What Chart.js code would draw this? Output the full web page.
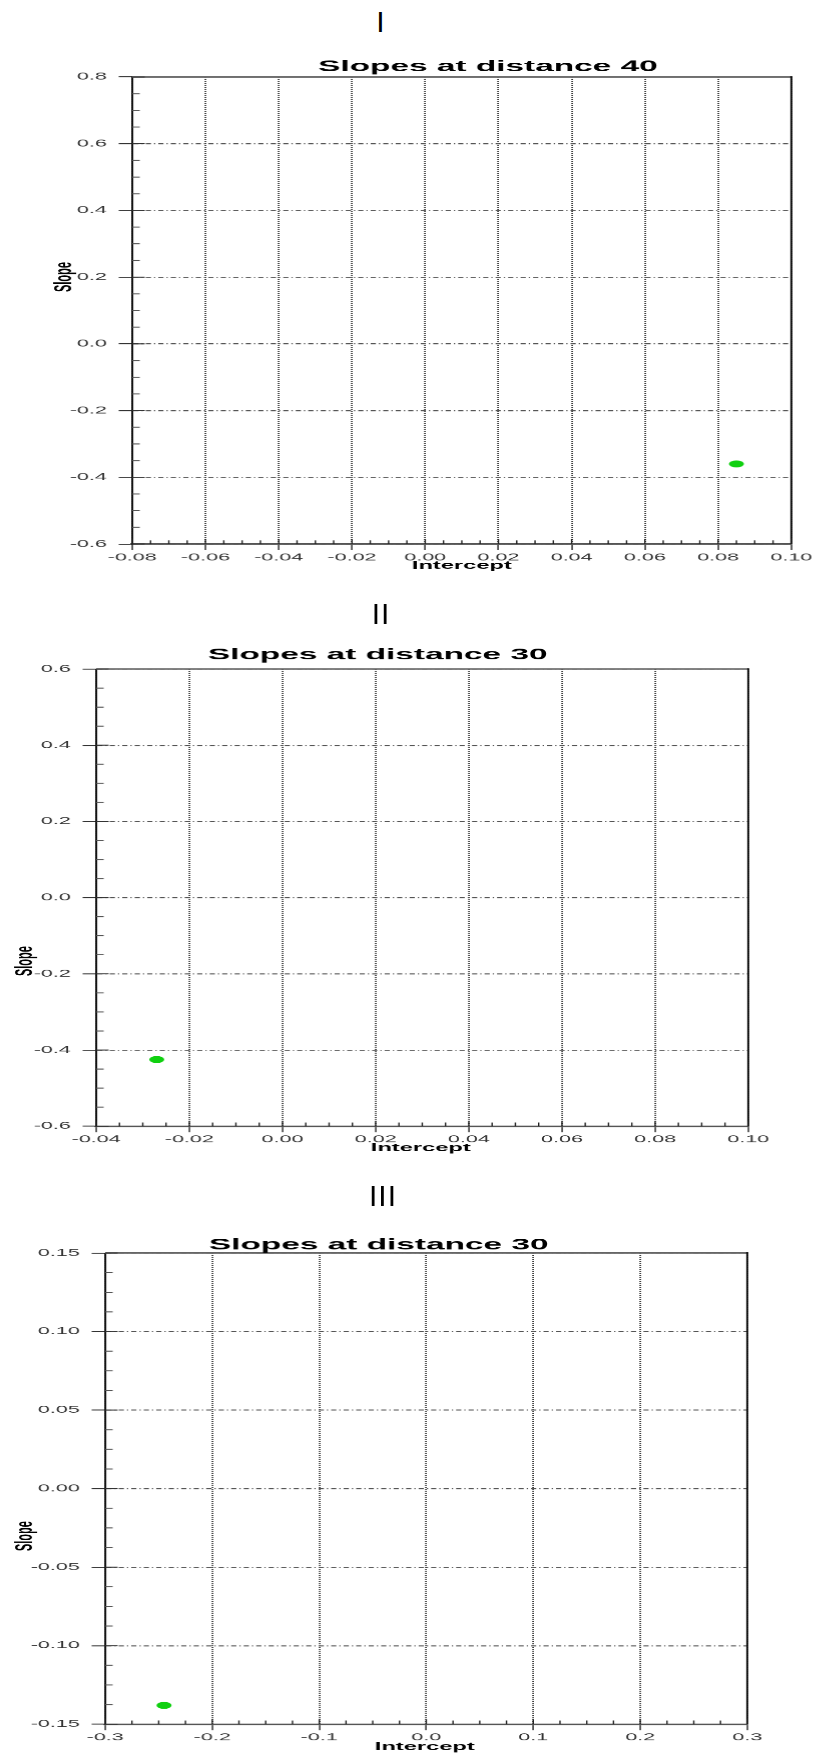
<!DOCTYPE html>
<html>
<head>
<meta charset="utf-8">
<title>Slopes at distance</title>
<script src="https://cdn.jsdelivr.net/npm/chart.js@4.4.1/dist/chart.umd.min.js"></script>
<style>
  html, body { margin: 0; padding: 0; background: #fff; }
  body { width: 813px; height: 1758px; overflow: hidden; position: relative; }
  .panel { position: absolute; left: 0; transform-origin: 0 0; }
  .num {
    position: absolute;
    font-family: "Liberation Sans", Arial, sans-serif;
    font-size: 30px;
    line-height: 1;
    color: #000;
    letter-spacing: 1px;
    transform: translate(-50%, -50%);
    white-space: nowrap;
  }
</style>
</head>
<body>
<script>
// The figure is drawn narrow and stretched sideways by this factor.
const S = 2.15;
const PAGE_W = 853;   // drawing width (px), a bit wider than the page
const FONT = '"Liberation Sans", Arial, Helvetica, sans-serif';

// ---- data ----
const panelNames = ['I', 'II', 'III'];
const chartTitles = ['Slopes at distance 40', 'Slopes at distance 30', 'Slopes at distance 30'];
const xAxisTitle = 'Intercept';
const yAxisTitle = 'Slope';

const interceptI = [0.085];
const slopeI = [-0.36];
const interceptII = [-0.027];
const slopeII = [-0.425];
const interceptIII = [-0.245];
const slopeIII = [-0.138];

const xTicksI = [-0.08, -0.06, -0.04, -0.02, 0, 0.02, 0.04, 0.06, 0.08, 0.10];
const xLabelsI = ['-0.08', '-0.06', '-0.04', '-0.02', '0.00', '0.02', '0.04', '0.06', '0.08', '0.10'];
const yTicksI = [-0.6, -0.4, -0.2, 0, 0.2, 0.4, 0.6, 0.8];
const yLabelsI = ['-0.6', '-0.4', '-0.2', '0.0', '0.2', '0.4', '0.6', '0.8'];

const xTicksII = [-0.04, -0.02, 0, 0.02, 0.04, 0.06, 0.08, 0.10];
const xLabelsII = ['-0.04', '-0.02', '0.00', '0.02', '0.04', '0.06', '0.08', '0.10'];
const yTicksII = [-0.6, -0.4, -0.2, 0, 0.2, 0.4, 0.6];
const yLabelsII = ['-0.6', '-0.4', '-0.2', '0.0', '0.2', '0.4', '0.6'];

const xTicksIII = [-0.3, -0.2, -0.1, 0, 0.1, 0.2, 0.3];
const xLabelsIII = ['-0.3', '-0.2', '-0.1', '0.0', '0.1', '0.2', '0.3'];
const yTicksIII = [-0.15, -0.10, -0.05, 0, 0.05, 0.10, 0.15];
const yLabelsIII = ['-0.15', '-0.10', '-0.05', '0.00', '0.05', '0.10', '0.15'];

// ---- page layout (page pixels) ----
const panels = [
  { name: panelNames[0], title: chartTitles[0], xs: interceptI, ys: slopeI,
    xTicks: xTicksI, xLabels: xLabelsI, yTicks: yTicksI, yLabels: yLabelsI,
    top: 40, height: 560, left: 132, right: 790, plotTop: 77, plotBottom: 544,
    numPos: [381, 22], titlePos: [487, 67], yTitlePos: [64, 277], xTitlePos: [461, 566] },
  { name: panelNames[1], title: chartTitles[1], xs: interceptII, ys: slopeII,
    xTicks: xTicksII, xLabels: xLabelsII, yTicks: yTicksII, yLabels: yLabelsII,
    top: 630, height: 550, left: 96, right: 747, plotTop: 669, plotBottom: 1126,
    numPos: [381, 614], titlePos: [377, 655], yTitlePos: [25, 961], xTitlePos: [420, 1148] },
  { name: panelNames[2], title: chartTitles[2], xs: interceptIII, ys: slopeIII,
    xTicks: xTicksIII, xLabels: xLabelsIII, yTicks: yTicksIII, yLabels: yLabelsIII,
    top: 1215, height: 543, left: 105, right: 746, plotTop: 1253, plotBottom: 1724,
    numPos: [383, 1196], titlePos: [378, 1245], yTitlePos: [25, 1536], xTitlePos: [424, 1747] }
];

// Frame, inner tick marks and the text around each plot.
const panelDecor = {
  id: 'panelDecor',
  afterDraw(chart, args, o) {
    const ctx = chart.ctx;
    const a = chart.chartArea;
    const xs = chart.scales.x, ys = chart.scales.y;
    ctx.save();
    ctx.setLineDash([]);

    // top and right frame
    ctx.strokeStyle = '#666';
    ctx.lineWidth = 1.5;
    ctx.beginPath(); ctx.moveTo(a.left, a.top); ctx.lineTo(a.right, a.top); ctx.stroke();
    ctx.strokeStyle = '#111';
    ctx.lineWidth = 2 / S;
    ctx.beginPath(); ctx.moveTo(a.right, a.top - 0.75); ctx.lineTo(a.right, a.bottom); ctx.stroke();

    // ticks inside the left axis: majors and three minors per interval
    ctx.strokeStyle = '#333';
    ctx.lineWidth = 1;
    const yt = ys.ticks.map(t => t.value);
    yt.forEach(v => {
      const y = ys.getPixelForValue(v);
      ctx.beginPath(); ctx.moveTo(a.left, y); ctx.lineTo(a.left + 12.5 / S, y); ctx.stroke();
    });
    ctx.strokeStyle = '#555';
    for (let i = 0; i < yt.length - 1; i++) {
      for (let k = 1; k < 4; k++) {
        const y = ys.getPixelForValue(yt[i] + (yt[i + 1] - yt[i]) * k / 4);
        ctx.beginPath(); ctx.moveTo(a.left, y); ctx.lineTo(a.left + 7.5 / S, y); ctx.stroke();
      }
    }
    // ticks inside the bottom axis
    ctx.strokeStyle = '#222';
    ctx.lineWidth = 1.4 / S;
    const xt = xs.ticks.map(t => t.value);
    xt.forEach(v => {
      const x = xs.getPixelForValue(v);
      ctx.beginPath(); ctx.moveTo(x, a.bottom); ctx.lineTo(x, a.bottom - 5); ctx.stroke();
    });
    for (let i = 0; i < xt.length - 1; i++) {
      for (let k = 1; k < 4; k++) {
        const x = xs.getPixelForValue(xt[i] + (xt[i + 1] - xt[i]) * k / 4);
        ctx.beginPath(); ctx.moveTo(x, a.bottom); ctx.lineTo(x, a.bottom - 3.7); ctx.stroke();
      }
    }

    // titles
    ctx.fillStyle = '#000';
    ctx.textAlign = 'center';
    ctx.textBaseline = 'middle';
    ctx.font = 'bold 15.5px ' + FONT;
    ctx.fillText(o.title, o.titlePos[0] / S, o.titlePos[1] - o.top);
    ctx.font = 'bold 11px ' + FONT;
    ctx.fillText(o.xTitle, o.xTitlePos[0] / S, o.xTitlePos[1] - o.top);
    ctx.translate(o.yTitlePos[0] / S, o.yTitlePos[1] - o.top);
    ctx.rotate(-Math.PI / 2);
    ctx.fillText(o.yTitle, 0, 0);
    ctx.restore();
  }
};

function buildPanel(p) {
  const num = document.createElement('div');
  num.className = 'num';
  num.textContent = p.name;
  num.style.left = p.numPos[0] + 'px';
  num.style.top = p.numPos[1] + 'px';
  document.body.appendChild(num);

  const wrap = document.createElement('div');
  wrap.className = 'panel';
  wrap.style.top = p.top + 'px';
  wrap.style.width = (PAGE_W / S) + 'px';
  wrap.style.height = p.height + 'px';
  wrap.style.transform = 'scaleX(' + S + ')';
  const canvas = document.createElement('canvas');
  wrap.appendChild(canvas);
  document.body.appendChild(wrap);

  const leftW = p.left / S;
  const rightPad = (PAGE_W - p.right) / S;
  const topPad = p.plotTop - p.top;
  const bottomH = p.top + p.height - p.plotBottom;
  const lastX = p.xTicks.length - 1, lastY = p.yTicks.length - 1;

  new Chart(canvas, {
    type: 'scatter',
    data: {
      datasets: [{
        data: p.xs.map((x, i) => ({ x: x, y: p.ys[i] })),
        backgroundColor: '#10d010',
        borderWidth: 0,
        pointRadius: 3.5,
        pointHoverRadius: 3.5
      }]
    },
    options: {
      responsive: true,
      maintainAspectRatio: false,
      animation: false,
      devicePixelRatio: S,
      events: [],
      layout: { padding: { left: 0, right: rightPad, top: topPad, bottom: 0 } },
      plugins: {
        legend: { display: false },
        tooltip: { enabled: false },
        panelDecor: {
          title: p.title, xTitle: xAxisTitle, yTitle: yAxisTitle, top: p.top,
          titlePos: p.titlePos, xTitlePos: p.xTitlePos, yTitlePos: p.yTitlePos
        }
      },
      scales: {
        x: {
          type: 'linear',
          min: p.xTicks[0],
          max: p.xTicks[lastX],
          afterBuildTicks: s => { s.ticks = p.xTicks.map(v => ({ value: v })); },
          afterFit: s => { s.height = bottomH; },
          ticks: {
            callback: (v, i) => p.xLabels[i],
            font: { family: FONT, size: 10 },
            color: '#333',
            padding: 1.5,
            maxRotation: 0,
            autoSkip: false
          },
          grid: { color: '#000', lineWidth: 1.4 / S, tickLength: 6, tickColor: '#222', tickWidth: 1.4 / S },
          border: { display: true, color: '#555', width: 1.5, dash: [1, 1] }
        },
        y: {
          type: 'linear',
          min: p.yTicks[0],
          max: p.yTicks[lastY],
          afterBuildTicks: s => { s.ticks = p.yTicks.map(v => ({ value: v })); },
          afterFit: s => { s.width = leftW; },
          ticks: {
            callback: (v, i) => p.yLabels[i],
            font: { family: FONT, size: 10 },
            color: '#333',
            padding: 5.5,
            autoSkip: false
          },
          grid: { color: '#555', lineWidth: 1, tickLength: 13.5 / S, tickColor: '#333', tickWidth: 1 },
          border: { display: true, color: '#111', width: 2 / S, dash: [2.4, 1.4, 0.6, 1.4] }
        }
      }
    },
    plugins: [panelDecor]
  });
}

panels.forEach(buildPanel);
</script>
</body>
</html>
